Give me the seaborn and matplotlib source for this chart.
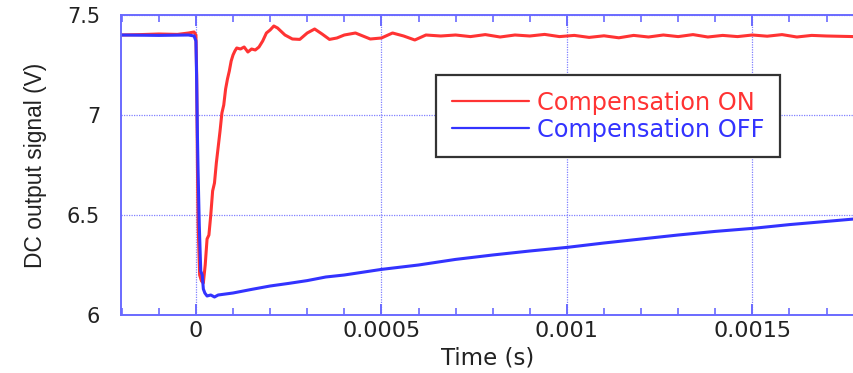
import numpy as np
import pandas as pd
import matplotlib
matplotlib.use("Agg")
import matplotlib.pyplot as plt
from matplotlib.ticker import MultipleLocator
import seaborn as sns

# Step response of the DC output, with and without compensation
t_on = [-0.000202, -0.00015, -0.0001, -0.00005, -0.00002, -0.000005, 0.0, 0.000002,
        0.000004, 0.000006, 0.00001, 0.000015, 0.00002, 0.000025, 0.00003, 0.000035,
        0.00004, 0.000045, 0.00005, 0.000055, 0.00006, 0.000065, 0.00007, 0.000075,
        0.00008, 0.000085, 0.00009, 0.000095, 0.0001, 0.000105, 0.00011, 0.00012,
        0.00013, 0.00014, 0.00015, 0.00016, 0.00017, 0.00018, 0.00019, 0.0002,
        0.00021, 0.00022, 0.00024, 0.00026, 0.00028, 0.0003, 0.00032, 0.00034,
        0.00036, 0.00038, 0.0004, 0.00043, 0.00047, 0.0005, 0.00053, 0.00056,
        0.00059, 0.00062, 0.00066, 0.0007, 0.00074, 0.00078, 0.00082, 0.00086,
        0.0009, 0.00094, 0.00098, 0.00102, 0.00106, 0.0011, 0.00114, 0.00118,
        0.00122, 0.00126, 0.0013, 0.00134, 0.00138, 0.00142, 0.00146, 0.0015,
        0.00154, 0.00158, 0.00162, 0.00166, 0.0017, 0.001774]
v_on = [7.400, 7.402, 7.405, 7.403, 7.410, 7.415, 7.400, 7.200,
        6.750, 6.450, 6.200, 6.170, 6.160, 6.250, 6.380, 6.400,
        6.500, 6.620, 6.660, 6.760, 6.840, 6.920, 7.010, 7.050,
        7.130, 7.180, 7.220, 7.270, 7.300, 7.320, 7.335, 7.330,
        7.340, 7.315, 7.330, 7.325, 7.340, 7.370, 7.410, 7.425,
        7.445, 7.435, 7.400, 7.380, 7.378, 7.410, 7.430, 7.405,
        7.378, 7.385, 7.400, 7.410, 7.380, 7.385, 7.410, 7.395,
        7.375, 7.400, 7.395, 7.400, 7.392, 7.402, 7.390, 7.400,
        7.395, 7.403, 7.392, 7.398, 7.388, 7.396, 7.386, 7.398,
        7.390, 7.400, 7.392, 7.402, 7.390, 7.398, 7.392, 7.400,
        7.394, 7.402, 7.390, 7.398, 7.395, 7.392]

t_off = [-0.000202, -0.0001, -0.00002, -0.000005, 0.0, 0.000002, 0.000004,
         0.000006, 0.000009, 0.000013, 0.000017, 0.00002, 0.000024, 0.00003,
         0.00004, 0.00005, 0.00006, 0.00008, 0.0001, 0.00015, 0.0002, 0.00025,
         0.0003, 0.00035, 0.0004, 0.0005, 0.0006, 0.0007, 0.0008, 0.0009, 0.001,
         0.0011, 0.0012, 0.0013, 0.0014, 0.0015, 0.0016, 0.0017, 0.001774]
v_off = [7.400, 7.398, 7.400, 7.395, 7.370, 7.170, 6.900,
         6.700, 6.450, 6.220, 6.200, 6.130, 6.110, 6.095,
         6.100, 6.090, 6.100, 6.105, 6.110, 6.128, 6.145, 6.158,
         6.172, 6.190, 6.200, 6.228, 6.250, 6.278, 6.300, 6.320, 6.338,
         6.360, 6.380, 6.400, 6.418, 6.433, 6.452, 6.468, 6.480]

series_names = ["Compensation ON", "Compensation OFF"]
series_colors = ["#ff3333", "#3333ff"]

x_ticks = [0, 0.0005, 0.001, 0.0015]
x_ticklabels = ["0", "0.0005", "0.001", "0.0015"]
y_ticks = [6, 6.5, 7, 7.5]
y_ticklabels = ["6", "6.5", "7", "7.5"]

df = pd.concat([
    pd.DataFrame({"Time": t_on, "Signal": v_on, "Mode": series_names[0]}),
    pd.DataFrame({"Time": t_off, "Signal": v_off, "Mode": series_names[1]}),
], ignore_index=True)

sns.set_theme(style="white")
plt.rcParams["font.family"] = ["DejaVu Sans"]

W, H = 854, 373
fig = plt.figure(figsize=(W / 100, H / 100), dpi=100)
ax = fig.add_axes([121 / W, 1 - 315 / H, (854 - 121) / W, 300 / H])

sns.lineplot(data=df, x="Time", y="Signal", hue="Mode", hue_order=series_names,
             palette=dict(zip(series_names, series_colors)), linewidth=2.2,
             sort=False, estimator=None, ax=ax, legend=False)

ax.set_xlim(-0.000202, 0.001774)
ax.set_ylim(6, 7.5)

axis_blue = "#6a6aff"
grid_blue = "#8080ff"
for side, sp in ax.spines.items():
    sp.set_color(axis_blue)
    sp.set_linewidth(1.4)
ax.spines["right"].set_visible(False)

ax.set_xticks(x_ticks)
ax.set_xticklabels(x_ticklabels)
ax.set_yticks(y_ticks)
ax.set_yticklabels(y_ticklabels)
ax.xaxis.set_minor_locator(MultipleLocator(0.0001))

ax.tick_params(axis="x", which="major", direction="in", length=8, width=1.4,
               color=axis_blue, top=True, bottom=True, labelsize=16, pad=4,
               labelcolor="#222222")
ax.tick_params(axis="x", which="minor", direction="in", length=5, width=1.2,
               color=axis_blue, top=True, bottom=True)
ax.tick_params(axis="y", which="major", direction="in", length=0, labelsize=15,
               pad=15, labelcolor="#222222")

ax.grid(True, which="major", color=grid_blue, linestyle=(0, (1, 1)), linewidth=0.9)
ax.set_axisbelow(True)

ax.set_xlabel("Time (s)", fontsize=16.5, color="#222222", labelpad=4)
ax.set_ylabel("DC output signal (V)", fontsize=16.4, color="#222222",
              family=["Liberation Sans", "DejaVu Sans"], labelpad=14)

# Legend with coloured labels
handles = [plt.Line2D([], [], color=c, linewidth=1.6) for c in series_colors]
leg = ax.legend(handles, series_names, loc="upper left",
                bbox_to_anchor=(436 / W, 1 - 75 / H), bbox_transform=fig.transFigure,
                fontsize=17.3, frameon=True, fancybox=False, framealpha=1,
                edgecolor="#333333", handlelength=3.2, handletextpad=0.35,
                labelspacing=0.12, borderpad=0.65, borderaxespad=0)
leg.get_frame().set_linewidth(1.6)
for txt, c in zip(leg.get_texts(), series_colors):
    txt.set_color(c)

fig.savefig("out.png", dpi=100)
